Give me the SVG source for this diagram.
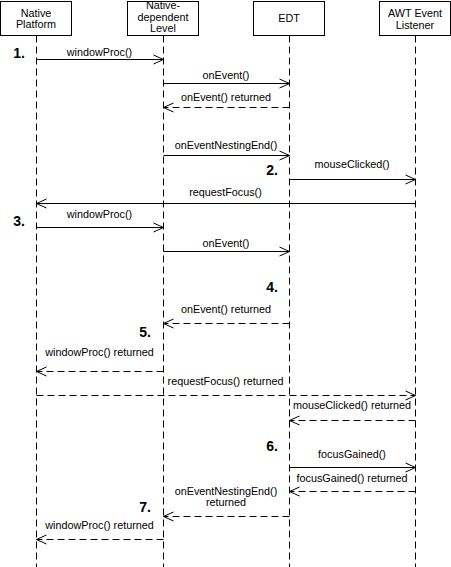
<svg xmlns="http://www.w3.org/2000/svg" width="451" height="567" viewBox="0 0 451 567">
<defs>
<marker id="arr" markerUnits="userSpaceOnUse" markerWidth="12" markerHeight="12" refX="10" refY="5" orient="auto" overflow="visible">
<path d="M0,0.5 L10,5 L0,9.5" fill="none" stroke="#000" stroke-width="1" stroke-dasharray="none"/>
</marker>
<style>
.box{fill:#fff;stroke:#000;stroke-width:1}
.life{stroke:#000;stroke-width:1;stroke-dasharray:7 4;fill:none}
.msg{stroke:#000;stroke-width:1;fill:none;marker-end:url(#arr)}
.ret{stroke:#000;stroke-width:1;fill:none;stroke-dasharray:7 4;marker-end:url(#arr)}
text{font-family:"Liberation Sans",Arial,sans-serif;font-size:10.8px;fill:#000}
.h{text-anchor:middle}
.l{text-anchor:middle}
.n{font-size:14px;font-weight:bold;text-anchor:end}
</style>
</defs>
<rect width="451" height="567" fill="#fff"/>
<g id="lifelines">
<line class="life" x1="36.5" y1="35.5" x2="36.5" y2="567"/>
<line class="life" x1="163.5" y1="35.5" x2="163.5" y2="567"/>
<line class="life" x1="289.5" y1="35.5" x2="289.5" y2="567"/>
<line class="life" x1="415.5" y1="35.5" x2="415.5" y2="567"/>
</g>
<g id="native-platform">
<rect class="box" x="0.5" y="1.5" width="71" height="34"/>
<text class="h" x="36" y="16.5">Native</text>
<text class="h" x="36" y="28">Platform</text>
</g>
<g id="native-dependent-level">
<rect class="box" x="127.5" y="1.5" width="71" height="34"/>
<text class="h" x="163" y="9">Native-</text>
<text class="h" x="163" y="20.5">dependent</text>
<text class="h" x="163" y="32">Level</text>
</g>
<g id="edt">
<rect class="box" x="253.5" y="1.5" width="71" height="34"/>
<text class="h" x="289" y="22">EDT</text>
</g>
<g id="awt-event-listener">
<rect class="box" x="379.5" y="1.5" width="71" height="34"/>
<text class="h" x="415" y="17">AWT Event</text>
<text class="h" x="415" y="28.5">Listener</text>
</g>
<g id="connectors">
<line class="msg" x1="36.5" y1="59.5" x2="163.5" y2="59.5"/>
<line class="msg" x1="163.5" y1="83.5" x2="289.5" y2="83.5"/>
<line class="ret" x1="289.5" y1="107.5" x2="163.5" y2="107.5"/>
<line class="msg" x1="163.5" y1="155.5" x2="289.5" y2="155.5"/>
<line class="msg" x1="289.5" y1="179.5" x2="415.5" y2="179.5"/>
<line class="msg" x1="415.5" y1="203.5" x2="36.5" y2="203.5"/>
<line class="msg" x1="36.5" y1="227.5" x2="163.5" y2="227.5"/>
<line class="msg" x1="163.5" y1="251.5" x2="289.5" y2="251.5"/>
<line class="ret" x1="289.5" y1="323.5" x2="163.5" y2="323.5"/>
<line class="ret" x1="163.5" y1="371.5" x2="36.5" y2="371.5"/>
<line class="ret" x1="36.5" y1="395.5" x2="415.5" y2="395.5"/>
<line class="ret" x1="415.5" y1="420.5" x2="289.5" y2="420.5"/>
<line class="msg" x1="289.5" y1="467.5" x2="415.5" y2="467.5"/>
<line class="ret" x1="415.5" y1="491.5" x2="289.5" y2="491.5"/>
<line class="ret" x1="289.5" y1="516.5" x2="163.5" y2="516.5"/>
<line class="ret" x1="163.5" y1="539.5" x2="36.5" y2="539.5"/>
<text class="l" x="99.5" y="55.5">windowProc()</text>
<text class="l" x="226" y="79">onEvent()</text>
<text class="l" x="226" y="101">onEvent() returned</text>
<text class="l" x="226" y="148.5">onEventNestingEnd()</text>
<text class="l" x="352" y="168">mouseClicked()</text>
<text class="l" x="225.5" y="196">requestFocus()</text>
<text class="l" x="99.5" y="218">windowProc()</text>
<text class="l" x="226" y="246.5">onEvent()</text>
<text class="l" x="226" y="312.5">onEvent() returned</text>
<text class="l" x="99.5" y="356">windowProc() returned</text>
<text class="l" x="225.5" y="384.5">requestFocus() returned</text>
<text class="l" x="352" y="408.5">mouseClicked() returned</text>
<text class="l" x="352" y="457.5">focusGained()</text>
<text class="l" x="352" y="482">focusGained() returned</text>
<text class="l" x="226" y="495">onEventNestingEnd()</text>
<text class="l" x="226" y="505.5">returned</text>
<text class="l" x="99.5" y="528.5">windowProc() returned</text>
</g>
<g id="step-numbers">
<text class="n" x="25" y="58">1.</text>
<text class="n" x="278" y="175">2.</text>
<text class="n" x="25" y="226">3.</text>
<text class="n" x="278" y="292">4.</text>
<text class="n" x="151" y="337">5.</text>
<text class="n" x="278" y="451">6.</text>
<text class="n" x="151" y="512">7.</text>
</g>
</svg>
